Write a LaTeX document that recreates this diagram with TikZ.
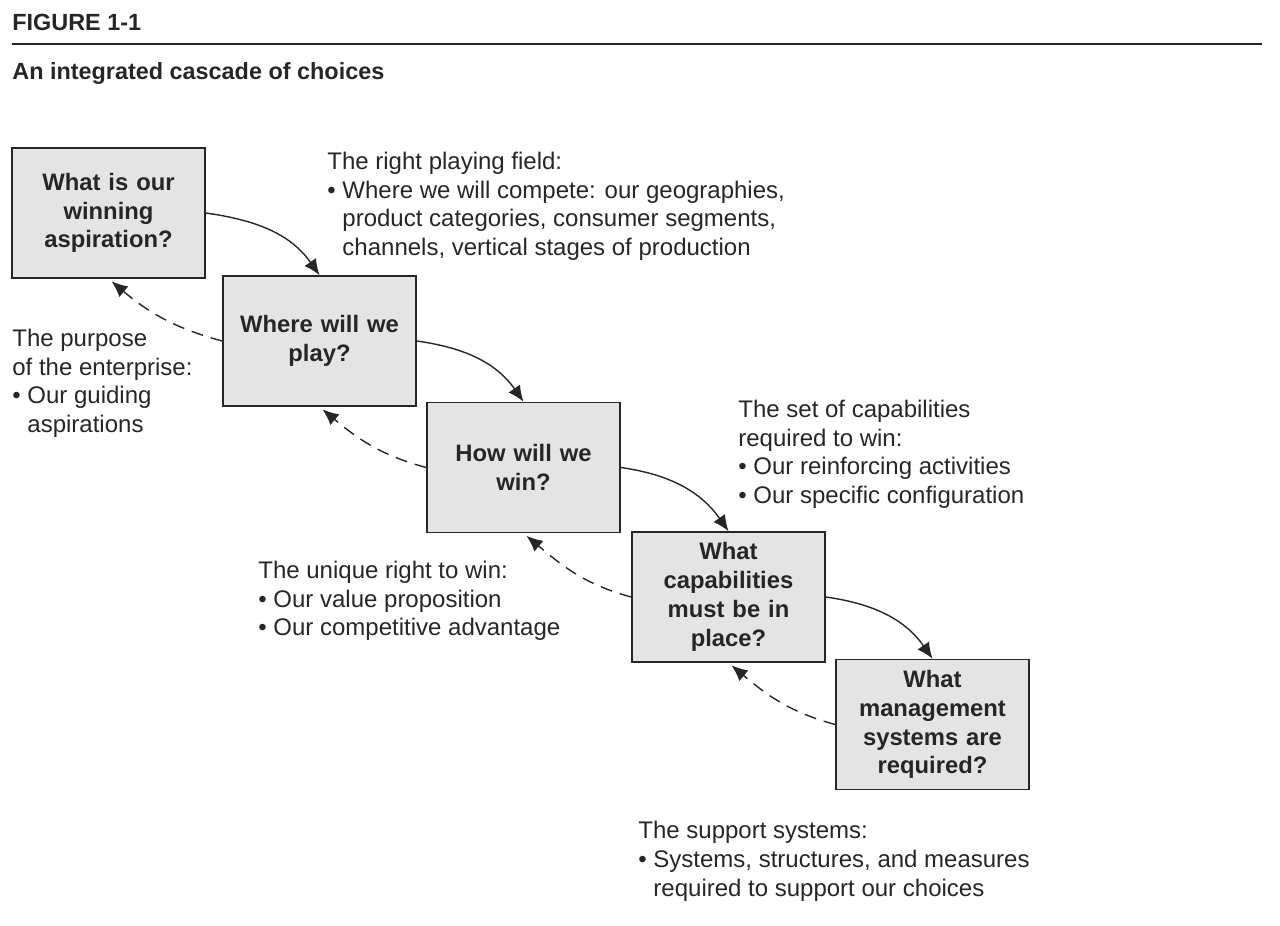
\documentclass[tikz,border=0pt]{standalone}
\usepackage{fontspec}
\setmainfont{Liberation Sans}
\usetikzlibrary{arrows.meta}
\definecolor{boxgray}{HTML}{E4E4E4}
\definecolor{ink}{HTML}{262626}

\begin{document}
\begin{tikzpicture}[x=0.5pt,y=-0.5pt,>={Latex[length=8pt,width=7pt]},
    qbox/.style={draw=ink,fill=boxgray,line width=0.8pt,minimum width=96.5pt,minimum height=65pt,text width=90pt,align=center,inner sep=0pt,text=ink,font=\fontsize{11.9}{14.4}\selectfont\bfseries},
    note/.style={anchor=north west,align=left,inner sep=0pt,text=ink,font=\fontsize{12}{14.3}\selectfont},
    head/.style={anchor=west,inner sep=0pt,text=ink,font=\fontsize{11.7}{14}\selectfont\bfseries},
    fwd/.style={->,draw=ink,line width=0.7pt},
    back/.style={->,draw=ink,line width=0.7pt,dash pattern=on 6pt off 4pt,shorten >=2pt}]
    \useasboundingbox (0,0) rectangle (1280,926);

    \node[head] (fig) at (12,22) {FIGURE 1-1};
    \draw[ink,line width=1pt] (12,44) -- (1262,44);
    \node[head] (title) at (12,74) {An integrated cascade of choices};

    \node[qbox] (aspire) at (108.5,213) {What is our\\winning\\aspiration?};
    \node[qbox] (play) at (319.5,341) {Where will we\\play?};
    \node[qbox] (win) at (523.5,467.5) {How will we\\win?};
    \node[qbox] (capab) at (728.5,597) {What\\capabilities\\must be in\\place?};
    \node[qbox] (mgmt) at (932.5,724.5) {What\\management\\systems are\\required?};

    \node[note] (field) at (327,152) {The right playing field:\\
        \textbullet\ Where we will compete: our geographies,\\
        \phantom{\textbullet}\ product categories, consumer segments,\\
        \phantom{\textbullet}\ channels, vertical stages of production};
    \node[note] (purpose) at (12,329) {The purpose\\of the enterprise:\\
        \textbullet\ Our guiding\\\phantom{\textbullet}\ aspirations};
    \node[note] (capset) at (738,400) {The set of capabilities\\required to win:\\
        \textbullet\ Our reinforcing activities\\
        \textbullet\ Our specific configuration};
    \node[note] (unique) at (258,561) {The unique right to win:\\
        \textbullet\ Our value proposition\\
        \textbullet\ Our competitive advantage};
    \node[note] (support) at (638,821) {The support systems:\\
        \textbullet\ Systems, structures, and measures\\
        \phantom{\textbullet}\ required to support our choices};

    \draw[fwd] (aspire.east) to[out=-8,in=125] (play.north);
    \draw[fwd] (play.east) to[out=-8,in=125] (win.north);
    \draw[fwd] (win.east) to[out=-8,in=125] (capab.north);
    \draw[fwd] (capab.east) to[out=-8,in=125] (mgmt.north);

    \draw[back] (play.west) to[out=165,in=-40] (aspire.south);
    \draw[back] (win.west) to[out=165,in=-40] (play.south);
    \draw[back] (capab.west) to[out=165,in=-40] (win.south);
    \draw[back] (mgmt.west) to[out=165,in=-40] (capab.south);
\end{tikzpicture}
\end{document}
